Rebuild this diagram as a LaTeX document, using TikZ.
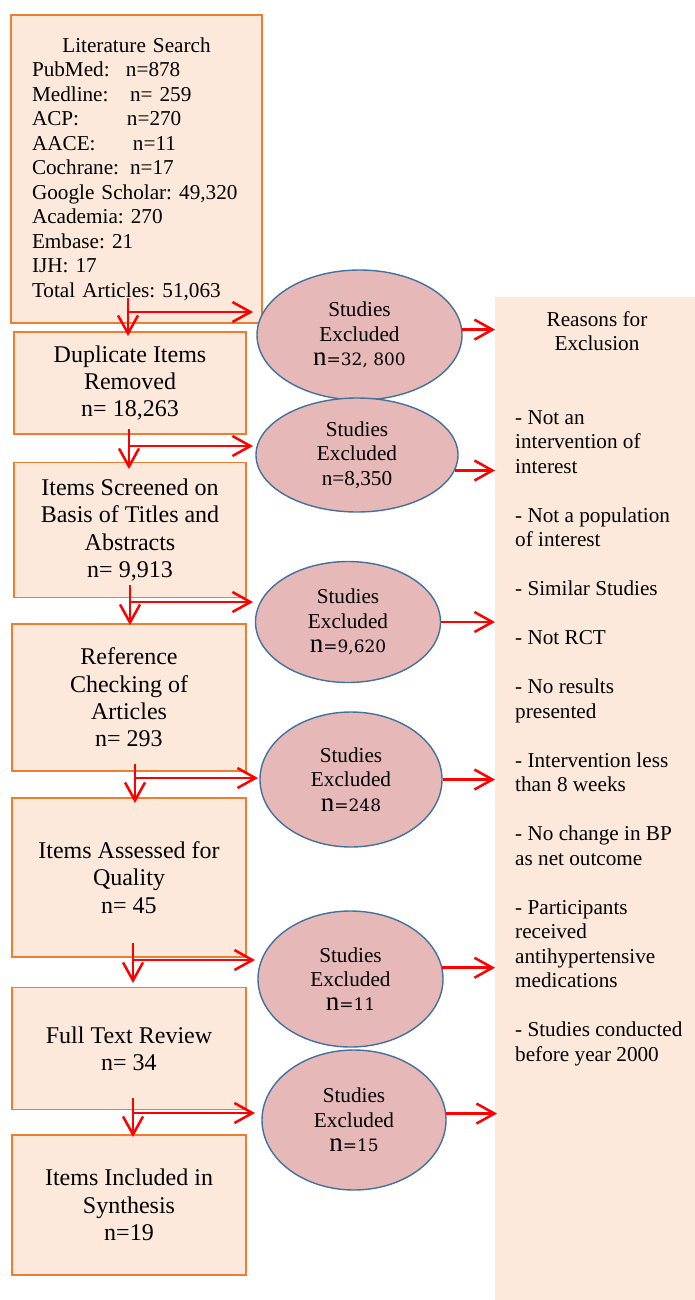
\documentclass[tikz,border=0pt]{standalone}
\usepackage{fontspec}
\setmainfont{Liberation Serif}
\newfontfamily\numfont{DejaVu Serif}
\usetikzlibrary{shapes.geometric,arrows.meta}
\definecolor{boxfill}{HTML}{FCE9DB}
\definecolor{boxline}{HTML}{ED7D31}
\definecolor{ellfill}{HTML}{E6B8B7}
\definecolor{ellline}{HTML}{41719C}
\definecolor{arrred}{HTML}{FF0000}
\newcommand{\nnum}[1]{{\fontsize{27}{24}\selectfont n}{\numfont\fontsize{17}{24}\selectfont =#1}}
\tikzset{
  stagebox/.style={draw=boxline, line width=1.5pt, fill=boxfill, rectangle, inner sep=0pt,
    align=center, font=\fontsize{24}{27.4}\selectfont},
  exclell/.style={draw=ellline, line width=1.4pt, fill=ellfill, ellipse, inner sep=0pt,
    align=center, font=\fontsize{21.2}{24.3}\selectfont},
  arr/.style={draw=arrred, line width=2.5pt, -{Straight Barb[length=18pt,width=20pt,line width=2.5pt]}},
  paneltext/.style={inner sep=0pt, font=\fontsize{21.2}{24.5}\selectfont}
}
\begin{document}
\frenchspacing
\begin{tikzpicture}[x=1pt,y=-1pt]
\useasboundingbox (0,0) rectangle (695,1300);
% right panel
\node[fill=boxfill, inner sep=0pt, minimum width=200pt, minimum height=1003pt, anchor=north west] (panel) at (495,297) {};
\node[paneltext, anchor=north, align=center] (ptitle) at (597,309) {\strut Reasons for\\Exclusion};
\node[paneltext, anchor=north west, align=left] (plist) at (515,407) {\strut - Not an\\intervention of\\interest\\[24.5pt]
- Not a population\\of interest\\[24.5pt]
- Similar Studies\\[24.5pt]
- Not RCT\\[24.5pt]
- No results\\presented\\[24.5pt]
- Intervention less\\than 8 weeks\\[24.5pt]
- No change in BP\\as net outcome\\[24.5pt]
- Participants\\received\\antihypertensive\\medications\\[24.5pt]
- Studies conducted\\before year 2000};
% boxes
\node[stagebox, text width=209pt, inner xsep=21pt, minimum height=308pt, align=left,
  font=\fontsize{21.2}{24.5}\selectfont] (b1) at (136.5,169) {\makebox[209pt]{Literature Search}\\
\makebox[94pt][l]{PubMed:}n=878\\
\makebox[98pt][l]{Medline:}n= 259\\
\makebox[95pt][l]{ACP:}n=270\\
\makebox[101pt][l]{AACE:}n=11\\
\makebox[98pt][l]{Cochrane:}n=17\\
Google Scholar: 49,320\\
Academia: 270\\
Embase: 21\\
IJH: 17\\
Total Articles: 51,063};
\node[stagebox, minimum width=232pt, minimum height=102pt] (b2) at (130,383) {Duplicate Items\\Removed\\n= 18,263};
\node[stagebox, minimum width=232pt, minimum height=135pt] (b3) at (130,530) {Items Screened on\\Basis of Titles and\\Abstracts\\n= 9,913};
\node[stagebox, minimum width=234pt, minimum height=147pt] (b4) at (129,697.5) {Reference\\Checking of\\Articles\\n= 293};
\node[stagebox, minimum width=234pt, minimum height=159pt] (b5) at (129,877.5) {Items Assessed for\\Quality\\n= 45};
\node[stagebox, minimum width=234pt, minimum height=122pt] (b6) at (129,1048.5) {Full Text Review\\n= 34};
\node[stagebox, minimum width=234pt, minimum height=140pt] (b7) at (129,1205) {Items Included in\\Synthesis\\n=19};
% ellipses
\node[exclell, minimum width=205pt, minimum height=130pt] (e1) at (359.5,335) {Studies\\Excluded\\\nnum{32, 800}};
\node[exclell, minimum width=202pt, minimum height=114pt] (e2) at (357,455) {Studies\\Excluded\\n=8,350};
\node[exclell, minimum width=185pt, minimum height=121pt] (e3) at (348,622) {Studies\\Excluded\\\nnum{9,620}};
\node[exclell, minimum width=182pt, minimum height=135pt] (e4) at (351,779.5) {Studies\\Excluded\\\nnum{248}};
\node[exclell, minimum width=185pt, minimum height=136pt] (e5) at (350.5,979) {Studies\\Excluded\\\nnum{11}};
\node[exclell, minimum width=184pt, minimum height=140pt] (e6) at (354,1120) {Studies\\Excluded\\\nnum{15}};
% left connectors
\coordinate (v1s) at (128,298); \coordinate (v1e) at (128,336); \coordinate (h1e) at (253,312);
\coordinate (v2s) at (129,429); \coordinate (v2e) at (129,469); \coordinate (h2e) at (253,446);
\coordinate (v3s) at (130,585); \coordinate (v3e) at (130,625); \coordinate (h3e) at (253,602);
\coordinate (v4s) at (135,764); \coordinate (v4e) at (135,803); \coordinate (h4e) at (258,778);
\coordinate (v5s) at (133,943); \coordinate (v5e) at (133,983); \coordinate (h5e) at (255,960);
\coordinate (v6s) at (133,1098); \coordinate (v6e) at (133,1137); \coordinate (h6e) at (255,1113);
\foreach \i in {1,...,6}{
  \draw[arr] (v\i s) -- (v\i e);
  \draw[arr] (v\i s |- h\i e) -- (h\i e);
}
% right connectors
\draw[arr] (e1.3) -- (e1.3 -| panel.west);
\draw[arr] (e2.-9) -- (e2.-9 -| panel.west);
\draw[arr] (e3.east) -- (e3.east -| panel.west);
\draw[arr] (e4.east) -- (e4.east -| panel.west);
\draw[arr] (e5.7.5) -- (e5.7.5 -| panel.west);
\draw[arr] (e6.4) -- ([xshift=2pt]e6.4 -| panel.west);
\end{tikzpicture}
\end{document}
